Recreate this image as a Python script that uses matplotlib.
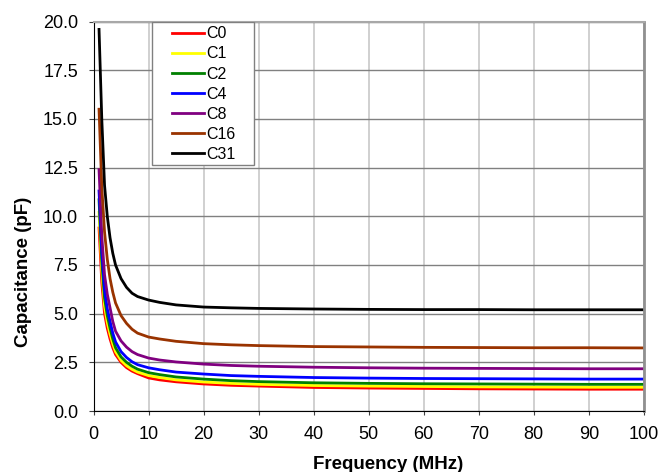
import matplotlib.pyplot as plt
from matplotlib.patches import Rectangle

plt.rcParams['font.family'] = ['Liberation Sans', 'DejaVu Sans']

freq = [1, 1.5, 2, 2.5, 3, 3.5, 4, 5, 6, 7, 8, 10, 12, 15, 20, 25, 30, 40, 50, 60, 70, 80, 90, 100]

c0 = [9.4, 6.6, 5.0, 4.25, 3.7, 3.25, 2.9, 2.5, 2.23, 2.05, 1.92, 1.7, 1.6, 1.5, 1.39, 1.32, 1.28,
      1.21, 1.18, 1.16, 1.14, 1.13, 1.12, 1.12]
c1 = [10.2, 7.2, 5.4, 4.55, 3.95, 3.45, 3.05, 2.6, 2.33, 2.14, 2.0, 1.82, 1.72, 1.6, 1.49, 1.42, 1.37,
      1.31, 1.28, 1.26, 1.24, 1.23, 1.22, 1.22]
c2 = [10.85, 7.7, 5.8, 4.9, 4.25, 3.7, 3.25, 2.78, 2.5, 2.3, 2.15, 1.97, 1.87, 1.75, 1.64, 1.56, 1.51,
      1.45, 1.42, 1.40, 1.39, 1.38, 1.37, 1.37]
c4 = [11.3, 8.2, 6.2, 5.25, 4.6, 4.0, 3.55, 3.05, 2.75, 2.53, 2.38, 2.22, 2.12, 2.0, 1.9, 1.82, 1.78,
      1.72, 1.69, 1.67, 1.66, 1.65, 1.64, 1.64]
c8 = [12.4, 9.0, 7.0, 6.0, 5.3, 4.6, 4.1, 3.6, 3.28, 3.05, 2.9, 2.72, 2.62, 2.52, 2.41, 2.34, 2.3,
      2.25, 2.22, 2.2, 2.19, 2.18, 2.17, 2.17]
c16 = [15.5, 11.5, 9.2, 7.8, 6.8, 6.1, 5.55, 4.9, 4.5, 4.2, 4.0, 3.8, 3.7, 3.58, 3.46, 3.4, 3.36,
       3.31, 3.29, 3.27, 3.26, 3.25, 3.25, 3.24]
c31 = [19.6, 15.0, 11.6, 10.0, 8.9, 8.1, 7.5, 6.8, 6.35, 6.05, 5.88, 5.7, 5.58, 5.45, 5.34, 5.3, 5.27,
       5.24, 5.22, 5.21, 5.21, 5.20, 5.20, 5.20]

series = [("C0", c0, "#ff0000"), ("C1", c1, "#ffff00"), ("C2", c2, "#008000"),
          ("C4", c4, "#0000ff"), ("C8", c8, "#800080"), ("C16", c16, "#993300"),
          ("C31", c31, "#000000")]

fig = plt.figure(figsize=(6.61, 4.72), dpi=100)
ax = fig.add_axes([0.1415, 0.1292, 0.8325, 0.8250])

for name, vals, col in series:
    ax.plot(freq, vals, color=col, lw=2.0, label=name, solid_joinstyle="round")

ax.set_xlim(0, 100)
ax.set_ylim(0, 20)
ax.set_xticks(range(0, 101, 10))
ax.set_yticks([i * 2.5 for i in range(9)])
ax.set_yticklabels([f"{i * 2.5:.1f}" for i in range(9)])

ax.xaxis.grid(True, color="#c8c8c8", lw=1.2)
ax.yaxis.grid(True, color="#808080", lw=1.0)
ax.set_axisbelow(True)

ax.spines["left"].set_color("black")
ax.spines["bottom"].set_color("black")
ax.spines["top"].set_color("#a8a8a8")
ax.spines["right"].set_color("#909090")
ax.spines["top"].set_linewidth(1.5)
ax.spines["right"].set_linewidth(2.0)
ax.tick_params(axis="both", labelsize=13, width=0.8, color="#404040")
ax.tick_params(axis="y", length=3.6, pad=7.5)
ax.tick_params(axis="x", length=3.0, pad=8)

ax.set_xlabel("Frequency (MHz)", fontsize=13.5, fontweight="bold")
ax.set_ylabel("Capacitance (pF)", fontsize=13.5, fontweight="bold")
ax.xaxis.set_label_coords(0.535, -0.115)
ax.yaxis.set_label_coords(-0.1117, 0.357)

# legend box (Excel style: wide horizontal padding)
ax.add_patch(Rectangle((0.1063, 0.632), 0.1853, 0.368, transform=ax.transAxes,
                       facecolor="white", edgecolor="#808080", lw=1.0, zorder=4))
leg = ax.legend(loc="upper left", bbox_to_anchor=(0.1426, 0.988), borderaxespad=0,
                fontsize=11.5, frameon=False, handlelength=2.0,
                handletextpad=0.15, labelspacing=0.32, borderpad=0)
leg.set_zorder(5)

fig.savefig("out.png", dpi=100)
